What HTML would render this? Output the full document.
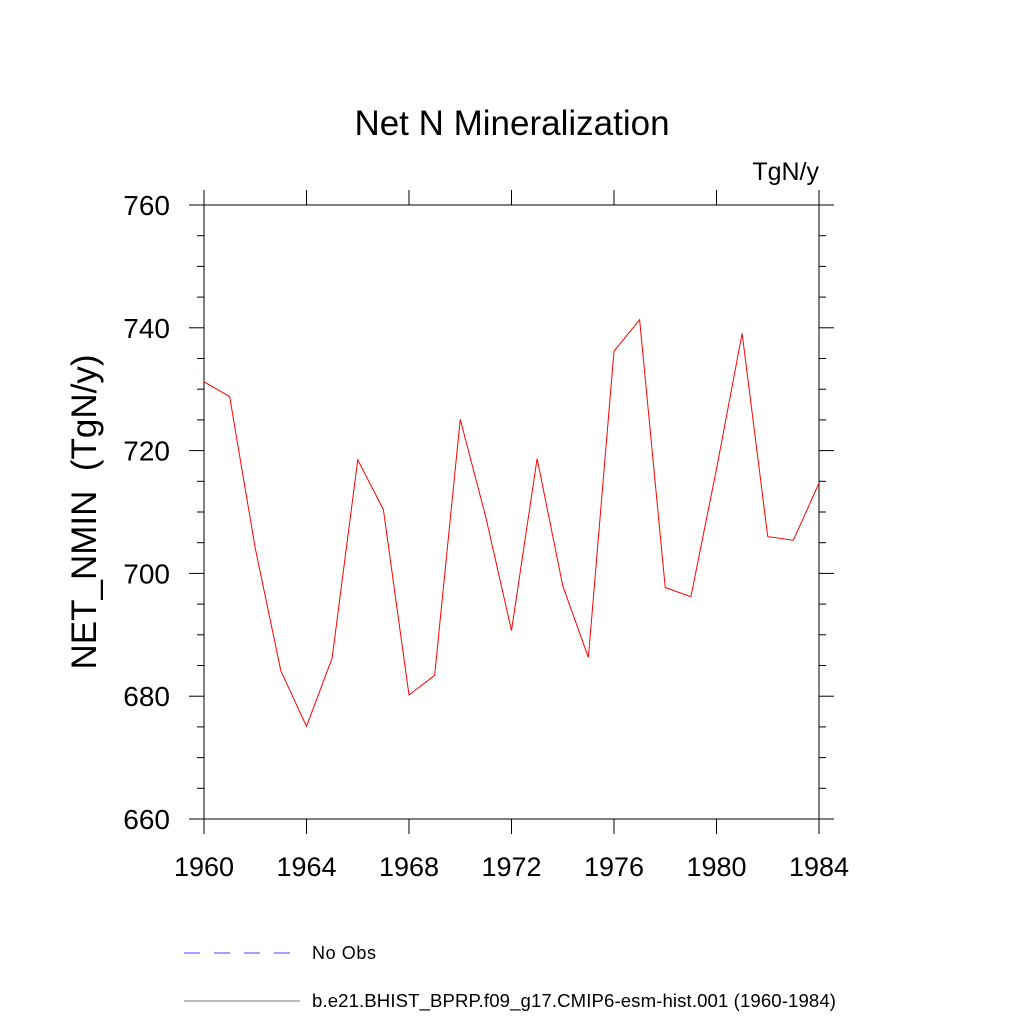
<!DOCTYPE html>
<html><head><meta charset="utf-8"><style>
body{margin:0;background:#fff}
svg text{font-family:"Liberation Sans",sans-serif;fill:#000}
</style></head><body>
<svg id="c" width="1024" height="1024" xmlns="http://www.w3.org/2000/svg">
<text x="512" y="135" font-size="35" text-anchor="middle">Net N Mineralization</text>
<text x="819" y="180" font-size="25" text-anchor="end">TgN/y</text>
<text transform="translate(96,512) rotate(-90)" font-size="35" text-anchor="middle">NET_NMIN&#160;&#160;(TgN/y)</text>
<g id="axes"></g>
<g id="plot"></g>
<line x1="184" y1="953" x2="292" y2="953" stroke="#4040ff" stroke-width="1" stroke-dasharray="16,14"/>
<text x="312" y="959" font-size="18" textLength="64">No Obs</text>
<line x1="184" y1="1001" x2="300" y2="1001" stroke="#777" stroke-width="1"/>
<text x="312" y="1007" font-size="18.6" textLength="524">b.e21.BHIST_BPRP.f09_g17.CMIP6-esm-hist.001 (1960-1984)</text>
</svg>
<script>
const years=[1960,1961,1962,1963,1964,1965,1966,1967,1968,1969,1970,1971,1972,1973,1974,1975,1976,1977,1978,1979,1980,1981,1982,1983,1984];
const values=[731.2,728.8,704.1,684.1,675.1,686.2,718.5,710.4,680.2,683.4,725.1,709.1,690.7,718.7,698,686.3,736.2,741.3,697.7,696.2,717,739.1,706,705.4,714.7];
const xTicks=[1960,1964,1968,1972,1976,1980,1984];
const yTicks=[660,680,700,720,740,760];
const X0=204,X1=819,Y0=819,Y1=205;
const xs=v=>X0+(v-1960)/(1984-1960)*(X1-X0);
const ys=v=>Y0-(v-660)/(760-660)*(Y0-Y1);
const NS="http://www.w3.org/2000/svg";
const ax=document.getElementById('axes'),pl=document.getElementById('plot');
function mk(t,a,p){const e=document.createElementNS(NS,t);for(const k in a)e.setAttribute(k,a[k]);p.appendChild(e);return e;}
const fr=mk('rect',{x:X0,y:Y1,width:X1-X0,height:Y0-Y1,fill:'none',stroke:'#000','stroke-width':1},ax);


xTicks.forEach(t=>{const x=xs(t);
mk('line',{x1:x,y1:Y0,x2:x,y2:Y0+15,stroke:'#000'},ax);
mk('line',{x1:x,y1:Y1,x2:x,y2:Y1-15,stroke:'#000'},ax);
const tx=mk('text',{x:x,y:Y0+57,'font-size':27,'text-anchor':'middle'},ax);tx.textContent=t;

});
for(let v=660;v<=760;v+=5){const y=ys(v);const L=(v%20===0)?15:7;
mk('line',{x1:X0,y1:y,x2:X0-L,y2:y,stroke:'#000'},ax);
mk('line',{x1:X1,y1:y,x2:X1+L,y2:y,stroke:'#000'},ax);}
yTicks.forEach(t=>{const tx=mk('text',{x:170,y:ys(t)+10,'font-size':28,'text-anchor':'end'},ax);tx.textContent=t;

});
const ln=mk('polyline',{points:years.map((y,i)=>xs(y)+','+ys(values[i])).join(' '),fill:'none',stroke:'#ff0000','stroke-width':1},pl);


</script>
</body></html>
